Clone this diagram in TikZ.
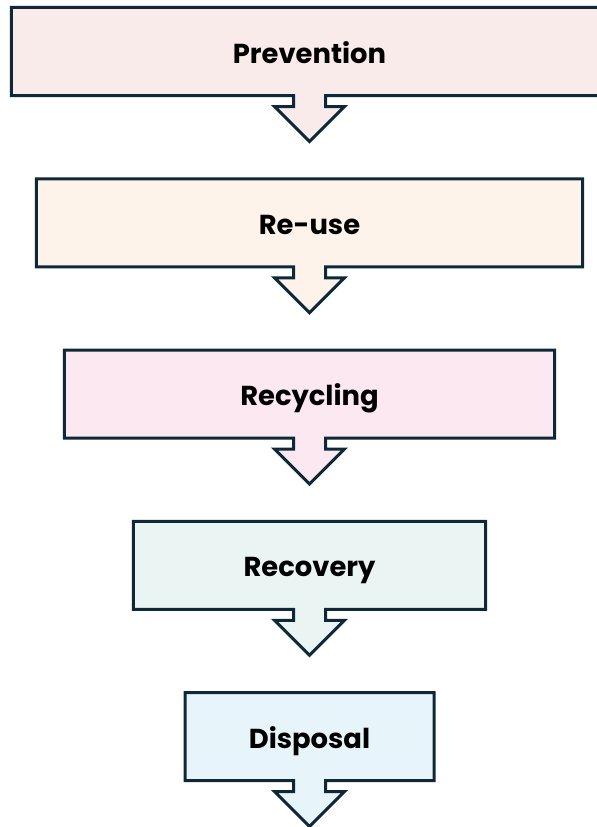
\documentclass[tikz,border=0pt]{standalone}
\usepackage{fontspec}
\setmainfont{Poppins}
\usetikzlibrary{positioning,calc,backgrounds}

\definecolor{edgeblue}{HTML}{0E2837}
\definecolor{prevfill}{HTML}{F9EBEA}
\definecolor{reusefill}{HTML}{FDF3EA}
\definecolor{recyfill}{HTML}{FCE8F0}
\definecolor{recofill}{HTML}{EAF5F3}
\definecolor{dispfill}{HTML}{E7F4FA}

\tikzset{
    stage/.style={rectangle, minimum height=88bp, inner sep=0pt, outer sep=0pt,
        text height=23bp, text depth=0pt,
        font=\fontsize{27.5}{30}\selectfont\bfseries},
    outline/.style={draw=edgeblue, line width=3bp, miter limit=10},
}

% box with its arrow below, drawn as one outline
\newcommand{\stagearrow}[2]{%
    \path[outline, fill=#2] (#1.north west) -- (#1.north east) -- (#1.south east)
        -- ($(#1.south)+(16,0)$) -- ++(0,-11) -- ++(19,0) -- ($(#1.south)+(0,-46)$)
        -- ++(-35,35) -- ++(19,0) -- ($(#1.south)+(-16,0)$) -- (#1.south west) -- cycle;}

\begin{document}
\begin{tikzpicture}[x=1bp, y=1bp, node distance=83.25bp]
    \useasboundingbox (0,0) rectangle (597,-827);

    \node[stage, minimum width=596bp] (prevention) at (309.5,-51.5) {Prevention};
    \node[stage, minimum width=546bp, below=of prevention] (reuse) {Re-use};
    \node[stage, minimum width=490bp, below=of reuse] (recycling) {Recycling};
    \node[stage, minimum width=352bp, below=of recycling] (recovery) {Recovery};
    \node[stage, minimum width=249bp, below=of recovery] (disposal) {Disposal};

    \begin{scope}[on background layer]
        \foreach \n/\c in {prevention/prevfill, reuse/reusefill, recycling/recyfill,
                           recovery/recofill, disposal/dispfill}
            \stagearrow{\n}{\c};
    \end{scope}
\end{tikzpicture}
\end{document}
